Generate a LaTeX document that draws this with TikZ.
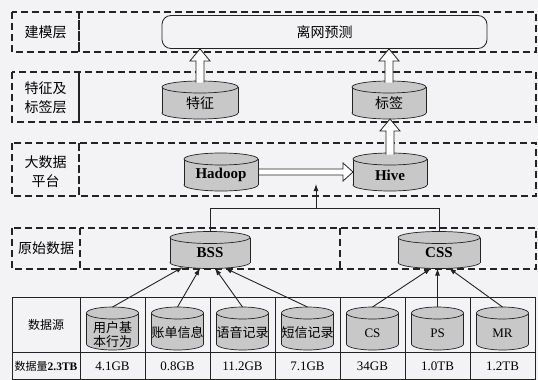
\documentclass[tikz,border=0pt]{standalone}
\usepackage{fontspec}
\setmainfont{Liberation Serif}
\newfontfamily\cjk{Noto Sans CJK SC}
\usetikzlibrary{calc,arrows.meta}
\definecolor{bgcol}{RGB}{243,243,245}
\definecolor{cylgray}{RGB}{200,200,200}
\definecolor{inkc}{RGB}{35,35,35}
\tikzset{
  bandline/.style={draw=inkc, line width=1.1pt, dash pattern=on 7pt off 4pt},
  cylf/.style={fill=cylgray, draw=inkc, line width=0.7pt},
  cyledge/.style={draw=inkc, line width=0.7pt},
  cylbox/.style={inner sep=0pt, outer sep=0pt},
  cyltext/.style={inner sep=0pt, align=center},
  lbl/.style={font=\cjk\fontsize{14}{19}\selectfont, align=center, inner sep=0pt},
  hollow/.style={fill=white, draw=inkc, line width=0.8pt, line join=miter},
  conn/.style={draw=inkc, line width=0.9pt},
  arr/.style={conn, -{Latex[length=7pt,width=5pt]}},
  tblline/.style={draw=inkc, line width=0.8pt},
  zhcyl/.style={font=\cjk\fontsize{14}{17}\selectfont},
  encyl/.style={font=\fontsize{15}{18}\selectfont\bfseries},
  zhsmall/.style={font=\cjk\fontsize{13}{14}\selectfont},
  ensmall/.style={font=\fontsize{13}{15}\selectfont},
}
% name, cx, cy, width, height, text style, text, text offset
\newcommand\mycyl[8]{%
  \pgfmathsetmacro\cylL{#2-#4/2}%
  \pgfmathsetmacro\cylR{#2+#4/2}%
  \pgfmathsetmacro\cylT{#3-#5/2+6}%
  \pgfmathsetmacro\cylB{#3+#5/2-6}%
  \pgfmathsetmacro\cylRx{#4/2}%
  \pgfmathsetmacro\cylTy{#3+#8}%
  \filldraw[cylf] (#2,\cylB) ellipse (\cylRx pt and 6pt);
  \fill[cylgray] (\cylL,\cylT) rectangle (\cylR,\cylB);
  \draw[cyledge] (\cylL,\cylT) -- (\cylL,\cylB) (\cylR,\cylT) -- (\cylR,\cylB);
  \filldraw[cylf] (#2,\cylT) ellipse (\cylRx pt and 6pt);
  \node[cylbox, minimum width=#4pt, minimum height=#5pt] (#1) at (#2,#3) {};
  \node[cyltext, #6] (#1-t) at (#2,\cylTy) {#7};
}
\newcommand\hollowup[2]{%
  \path[hollow] let \p1=(#1.north), \p2=(#2.south) in
    (\x1-4pt,\y1-1.5pt) -- (\x1-4pt,\y2-12pt) -- (\x1-10pt,\y2-12pt) -- (\x1,\y2)
    -- (\x1+10pt,\y2-12pt) -- (\x1+4pt,\y2-12pt) -- (\x1+4pt,\y1-1.5pt);
}
\newcommand\hollowright[2]{%
  \path[hollow] let \p1=(#1.east), \p2=(#2.west) in
    (\x1+1pt,\y1+3pt) -- (\x2-10pt,\y1+3pt) -- (\x2-10pt,\y1+9pt) -- (\x2,\y1)
    -- (\x2-10pt,\y1-9pt) -- (\x2-10pt,\y1-3pt) -- (\x1+1pt,\y1-3pt);
}
\begin{document}
\begin{tikzpicture}[x=1pt,y=-1pt]
\path[use as bounding box, fill=bgcol] (0,0) rectangle (538,380);

% layer bands
\draw[bandline] (12,12) rectangle (79,52);
\draw[bandline] (79,12) rectangle (536,52);
\draw[bandline] (12,72) rectangle (79,122);
\draw[bandline] (79,72) rectangle (536,122);
\draw[bandline] (12,143) rectangle (79,196);
\draw[bandline] (79,143) rectangle (536,196);
\draw[bandline] (12,228) rectangle (80,269);
\draw[bandline] (80,228) rectangle (536,269);
\draw[bandline] (340,228) -- (340,269);

% layer labels
\node[lbl] (l1) at (45.5,32) {建模层};
\node[lbl] (l2) at (45.5,97.5) {特征及\\标签层};
\node[lbl] (l3) at (45.5,172) {大数据\\平台};
\node[lbl] (l4) at (46,248.5) {原始数据};

% modelling layer
\node[draw=inkc, line width=0.8pt, rounded corners=9pt, minimum width=325pt, minimum height=33pt,
      inner sep=0pt, font=\cjk\fontsize{14}{17}\selectfont] (lw) at (324.5,32) {离网预测};

% cylinders
\mycyl{tz}{200}{100}{76}{38}{zhcyl}{特征}{3}
\mycyl{bq}{389}{100}{74}{38}{zhcyl}{标签}{3}
\mycyl{hadoop}{221}{172}{74}{38}{encyl}{Hadoop}{3}
\mycyl{hive}{390}{172}{74}{38}{encyl}{Hive}{3}
\mycyl{bss}{210}{250}{80}{37}{encyl}{BSS}{3}
\mycyl{css}{439}{250}{82}{37}{encyl}{CSS}{3}

% hollow arrows
\hollowup{tz}{lw}
\hollowup{bq}{lw}
\hollowup{hive}{bq}
\hollowright{hadoop}{hive}

% BSS / CSS to platform
\draw[conn] (bss.north) -- ++(0,-23) coordinate (jl) -| (css.north);
\coordinate (jm) at (316,208.5);
\coordinate (jt) at (316,184);
\draw[arr] (jm) -- (jt);

% table grid
\draw[tblline] (12,297) rectangle (535,379);
\draw[tblline] (12,352) -- (535,352);
\foreach \xx in {80,145,210,275,340,405,470} {
  \draw[tblline] (\xx,297) -- (\xx,379);
}

% table cylinders
\mycyl{c1}{112.5}{328.5}{52}{43}{zhsmall}{用户基\\本行为}{6}
\mycyl{c2}{177.5}{328.5}{52}{43}{zhsmall}{账单信息}{4.5}
\mycyl{c3}{242.5}{328.5}{52}{43}{zhsmall}{语音记录}{4.5}
\mycyl{c4}{307.5}{328.5}{52}{43}{zhsmall}{短信记录}{4.5}
\mycyl{c5}{372.5}{328.5}{52}{43}{ensmall}{CS}{4.5}
\mycyl{c6}{437.5}{328.5}{52}{43}{ensmall}{PS}{4.5}
\mycyl{c7}{502.5}{328.5}{52}{43}{ensmall}{MR}{4.5}

% table texts
\node[font=\cjk\fontsize{12}{14}\selectfont] (src) at (46,325) {数据源};
\node[inner sep=0pt] (vol) at (46,366) {{\cjk\fontsize{11}{13}\selectfont 数据量}{\fontsize{11.5}{13}\selectfont\bfseries 2.3TB}};
\node[ensmall] (v1) at (112.5,366) {4.1GB};
\node[ensmall] (v2) at (177.5,366) {0.8GB};
\node[ensmall] (v3) at (242.5,366) {11.2GB};
\node[ensmall] (v4) at (307.5,366) {7.1GB};
\node[ensmall] (v5) at (372.5,366) {34GB};
\node[ensmall] (v6) at (437.5,366) {1.0TB};
\node[ensmall] (v7) at (502.5,366) {1.2TB};

% sources to BSS / CSS
\draw[arr] (c1.north) -- ($(bss.south)+(-27,-1.5)$);
\draw[arr] (c2.north) -- ($(bss.south)+(-10,-0.3)$);
\draw[arr] (c3.north) -- ($(bss.south)+(5,-0.2)$);
\draw[arr] (c4.north) -- ($(bss.south)+(15,-0.4)$);
\draw[arr] (c5.north) -- ($(css.south)+(-8,-0.2)$);
\draw[arr] (c6.north) -- ($(css.south)+(-1.5,0)$);
\draw[arr] (c7.north) -- ($(css.south)+(10,-0.3)$);
\end{tikzpicture}
\end{document}
